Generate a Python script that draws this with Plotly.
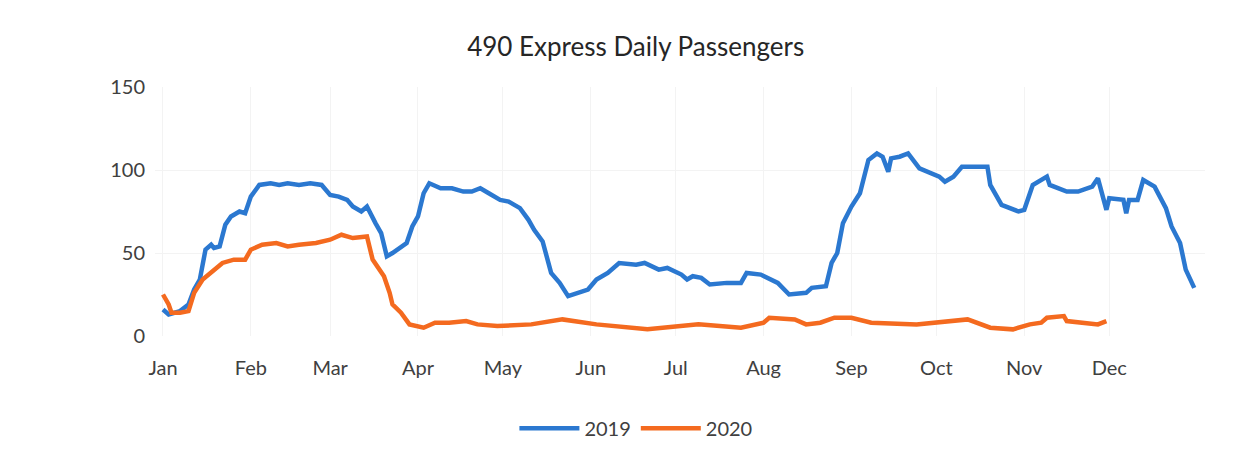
import plotly.graph_objects as go

month_labels = ["Jan", "Feb", "Mar", "Apr", "May", "Jun", "Jul", "Aug", "Sep", "Oct", "Nov", "Dec"]
month_start_days = [0, 31, 59, 90, 120, 151, 181, 212, 243, 273, 304, 334]
y_ticks = [0, 50, 100, 150]

days_2019 = [0, 2, 6, 9, 11, 13, 15, 17, 18, 20, 22, 24, 27, 29, 31, 34, 38, 41, 44, 48, 52, 56, 59, 62, 65, 67,
             70, 72, 75, 77, 79, 81, 86, 88, 90, 92, 94, 98, 102, 106, 109, 112, 115, 119, 122, 126, 129, 131,
             134, 137, 140, 143, 150, 153, 157, 161, 167, 170, 175, 178, 183, 185, 187, 190, 193, 199, 204, 206,
             211, 217, 221, 227, 229, 234, 236, 238, 240, 243, 246, 249, 252, 254, 256, 257, 260, 263, 267, 271,
             274, 276, 279, 282, 288, 291, 292, 296, 302, 304, 307, 312, 313, 319, 323, 328, 330, 333, 334, 339,
             340, 341, 344, 346, 350, 354, 356, 359, 361, 364]
values_2019 = [16, 13, 15, 19, 28, 34, 52, 55, 53, 54, 67, 72, 75, 74, 84, 91, 92, 91, 92, 91, 92, 91, 85, 84, 82, 78,
               75, 78, 68, 62, 48, 50, 56, 66, 72, 86, 92, 89, 89, 87, 87, 89, 86, 82, 81, 77, 70, 64,
               57, 38, 32, 24, 28, 34, 38, 44, 43, 44, 40, 41, 37, 34, 36, 35, 31, 32, 32, 38,
               37, 32, 25, 26, 29, 30, 44, 50, 68, 78, 86, 106, 110, 108, 99, 107, 108, 110, 101, 98,
               96, 93, 96, 102, 102, 102, 91, 79, 75, 76, 91, 96, 91, 87, 87, 90, 95, 76, 83, 82,
               74, 82, 82, 94, 90, 77, 66, 56, 40, 29]

days_2020 = [0, 2, 3, 6, 9, 11, 14, 18, 21, 25, 29, 31, 35, 40, 44, 48, 54, 59, 63, 67, 72, 74, 78, 80, 81, 84, 87,
             92, 96, 101, 107, 111, 118, 130, 141, 153, 171, 189, 204, 212, 214, 223, 227, 232, 237, 243, 250,
             266, 276, 284, 292, 300, 306, 310, 312, 318, 319, 325, 330, 333]
values_2020 = [25, 19, 14, 14, 15, 26, 34, 40, 44, 46, 46, 52, 55, 56, 54, 55, 56, 58, 61, 59, 60, 46, 36, 26, 19, 14, 7,
               5, 8, 8, 9, 7, 6, 7, 10, 7, 4, 7, 5, 8, 11, 10, 7, 8, 11, 11, 8,
               7, 9, 10, 5, 4, 7, 8, 11, 12, 9, 8, 7, 9]

FONT = "Lato"

fig = go.Figure()
fig.add_trace(go.Scatter(x=days_2019, y=values_2019, mode="lines", name="2019",
                         line=dict(color="#2b78d0", width=4.5)))
fig.add_trace(go.Scatter(x=days_2020, y=values_2020, mode="lines", name="2020",
                         line=dict(color="#f46a1f", width=4.5)))

fig.update_layout(
    width=1238, height=454,
    margin=dict(l=147, r=41, t=79, b=126),
    paper_bgcolor="white", plot_bgcolor="white",
    title=dict(text="490 Express Daily Passengers", x=0.507, xanchor="center", y=0.914, yanchor="middle",
               font=dict(family=FONT, size=26, color="#262626")),
    font=dict(family=FONT, size=20, color="#404040"),
    legend=dict(orientation="h", x=0.458, xanchor="center", y=-0.37, yanchor="middle",
                font=dict(family=FONT, size=20, color="#404040"), itemwidth=60),
    showlegend=True,
)
fig.update_xaxes(range=[-2.82, 367.8], tickmode="array", tickvals=month_start_days, ticktext=month_labels,
                 showgrid=True, gridcolor="#f3f3f3", zeroline=False, showline=False, ticks="",
                 automargin=False, ticklabelstandoff=18, tickfont=dict(family=FONT, size=20, color="#404040"))
fig.update_yaxes(range=[0, 150], tickmode="array", tickvals=y_ticks, showgrid=True, gridcolor="#f3f3f3",
                 zeroline=False, showline=False, ticks="", ticklabelstandoff=9, automargin=False,
                 tickfont=dict(family=FONT, size=20, color="#404040"))

fig.write_html("out.html")
